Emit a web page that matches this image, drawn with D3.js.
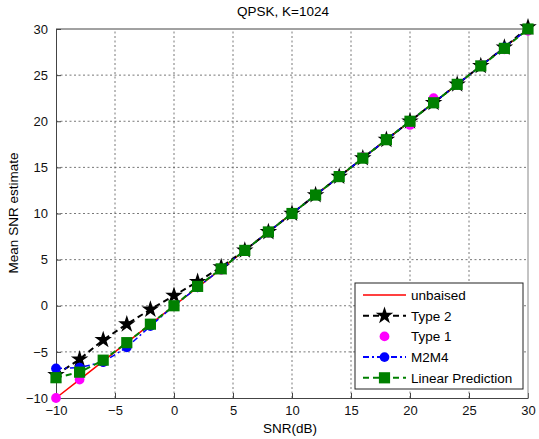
<!DOCTYPE html>
<html>
<head>
<meta charset="utf-8">
<script src="https://cdn.jsdelivr.net/npm/d3@7"></script>
<style>
  body { margin: 0; background: #fff; }
  text { font-family: "Liberation Sans", Arial, sans-serif; }
</style>
</head>
<body>
<svg></svg>
<script>
var snr = [-10, -8, -6, -4, -2, 0, 2, 4, 6, 8, 10, 12, 14, 16, 18, 20, 22, 24, 26, 28, 30];
var unbiased = [-10, -8, -6, -4, -2, 0, 2, 4, 6, 8, 10, 12, 14, 16, 18, 20, 22, 24, 26, 28, 30];
var type2 = [-7.5, -5.8, -3.7, -2.0, -0.4, 1.1, 2.6, 4.2, 6.0, 8.0, 10.0, 12.0, 14.0, 16.0, 18.0, 20.0, 22.0, 24.0, 26.0, 28.0, 30.2];
var type1 = [-10, -8.0, -6.1, -4.2, -2.1, 0.0, 2.0, 3.9, 6.0, 7.9, 10.0, 12.0, 14.1, 16.1, 18.0, 19.6, 22.5, 24.0, 26.1, 27.8, 29.8];
var m2m4 = [-6.8, -6.7, -6.1, -4.5, -2.2, 0.0, 2.0, 4.0, 6.0, 8.0, 10.0, 12.0, 14.0, 16.0, 18.0, 20.0, 22.0, 24.0, 26.0, 28.0, 30.0];
var linpred = [-7.8, -7.2, -5.9, -4.0, -2.0, 0.0, 2.1, 4.0, 6.0, 8.0, 10.0, 12.0, 14.0, 16.0, 18.0, 20.0, 22.0, 24.0, 26.0, 27.9, 30.0];
var ticks = [-10, -5, 0, 5, 10, 15, 20, 25, 30];

var width = 539, height = 439;
var svg = d3.select("svg").attr("width", width).attr("height", height);

var x = d3.scaleLinear().domain([-10, 30]).range([56, 528]);
var y = d3.scaleLinear().domain([-10, 30]).range([398, 29]);

var grid = svg.append("g");
grid.selectAll("line.gx").data(ticks.slice(1, -1)).enter().append("line")
    .attr("x1", function(d) { return x(d); }).attr("x2", function(d) { return x(d); })
    .attr("y1", y(-10)).attr("y2", y(30))
    .attr("stroke", "#555").attr("stroke-width", 0.8).attr("stroke-dasharray", "2,2.5");
grid.selectAll("line.gy").data(ticks.slice(1, -1)).enter().append("line")
    .attr("y1", function(d) { return y(d); }).attr("y2", function(d) { return y(d); })
    .attr("x1", x(-10)).attr("x2", x(30))
    .attr("stroke", "#555").attr("stroke-width", 0.8).attr("stroke-dasharray", "2,2.5");

// axes (ticks point inward)
var xAxis = svg.append("g").attr("transform", "translate(0," + y(-10) + ")")
    .call(d3.axisBottom(x).tickValues(ticks).tickSizeInner(-5).tickSizeOuter(0).tickPadding(8));
var yAxis = svg.append("g").attr("transform", "translate(" + x(-10) + ",0)")
    .call(d3.axisLeft(y).tickValues(ticks).tickSizeInner(-5).tickSizeOuter(0).tickPadding(8));
[xAxis, yAxis].forEach(function(a) {
  a.select(".domain").attr("stroke", "#444");
  a.selectAll(".tick line").attr("stroke", "#444");
  a.selectAll("text").attr("font-size", 13).attr("fill", "#111")
    .style("font-family", "'Liberation Sans', Arial, sans-serif");
});
svg.append("line").attr("x1", x(-10)).attr("x2", x(30)).attr("y1", y(30)).attr("y2", y(30)).attr("stroke", "#444");
svg.append("line").attr("x1", x(30)).attr("x2", x(30)).attr("y1", y(30)).attr("y2", y(-10)).attr("stroke", "#888");

var line = d3.line().x(function(d) { return x(d[0]); }).y(function(d) { return y(d[1]); });
function pts(vals) { return snr.map(function(s, i) { return [s, vals[i]]; }); }

var star = d3.symbol().type(d3.symbolStar).size(95);
var circ = d3.symbol().type(d3.symbolCircle).size(75);
var sq = d3.symbol().type(d3.symbolSquare).size(125);

var plot = svg.append("g");

// unbaised
plot.append("path").attr("d", line(pts(unbiased))).attr("fill", "none").attr("stroke", "#ff0000").attr("stroke-width", 1.5);

// Type 2
plot.append("path").attr("d", line(pts(type2))).attr("fill", "none").attr("stroke", "#000").attr("stroke-width", 2).attr("stroke-dasharray", "6,4");
plot.selectAll("path.t2").data(pts(type2)).enter().append("path")
    .attr("transform", function(d) { return "translate(" + x(d[0]) + "," + y(d[1]) + ")"; })
    .attr("d", star).attr("fill", "#000");

// Type 1
plot.selectAll("path.t1").data(pts(type1)).enter().append("path")
    .attr("transform", function(d) { return "translate(" + x(d[0]) + "," + y(d[1]) + ")"; })
    .attr("d", circ).attr("fill", "#ff00ff");

// M2M4
plot.append("path").attr("d", line(pts(m2m4))).attr("fill", "none").attr("stroke", "#0000ff").attr("stroke-width", 1.5).attr("stroke-dasharray", "6,3,2,3");
plot.selectAll("path.m2").data(pts(m2m4)).enter().append("path")
    .attr("transform", function(d) { return "translate(" + x(d[0]) + "," + y(d[1]) + ")"; })
    .attr("d", circ).attr("fill", "#0000ff");

// Linear Prediction
plot.append("path").attr("d", line(pts(linpred))).attr("fill", "none").attr("stroke", "#008000").attr("stroke-width", 2).attr("stroke-dasharray", "6,4");
plot.selectAll("path.lp").data(pts(linpred)).enter().append("path")
    .attr("transform", function(d) { return "translate(" + x(d[0]) + "," + y(d[1]) + ")"; })
    .attr("d", sq).attr("fill", "#008000");

// title & labels
svg.append("text").attr("x", 283).attr("y", 16).attr("text-anchor", "middle").attr("font-size", 13.5).text("QPSK, K=1024");
svg.append("text").attr("x", 290).attr("y", 433).attr("text-anchor", "middle").attr("font-size", 13.5).text("SNR(dB)");
svg.append("text").attr("transform", "translate(18,213) rotate(-90)").attr("text-anchor", "middle").attr("font-size", 13.5).text("Mean SNR estimate");

// legend
var legendItems = [
  { name: "unbaised", color: "#ff0000", dash: null, sym: null },
  { name: "Type 2", color: "#000", dash: "6,4", sym: star },
  { name: "Type 1", color: "#ff00ff", dash: "none", sym: circ },
  { name: "M2M4", color: "#0000ff", dash: "6,3,2,3", sym: circ },
  { name: "Linear Prediction", color: "#008000", dash: "6,4", sym: sq }
];
var lg = svg.append("g");
lg.append("rect").attr("x", 355).attr("y", 283).attr("width", 168).attr("height", 106)
    .attr("fill", "#fff").attr("stroke", "#222").attr("stroke-width", 1);
legendItems.forEach(function(it, i) {
  var ly = 295 + i * 20.7;
  if (it.dash !== "none") {
    lg.append("line").attr("x1", 363).attr("x2", 406).attr("y1", ly).attr("y2", ly)
      .attr("stroke", it.color).attr("stroke-width", it.dash ? 2 : 1.5)
      .attr("stroke-dasharray", it.dash);
  }
  if (it.sym) {
    lg.append("path").attr("transform", "translate(384.5," + ly + ")").attr("d", it.sym).attr("fill", it.color);
  }
  lg.append("text").attr("x", 411).attr("y", ly + 5).attr("font-size", 13.5).text(it.name);
});
</script>
</body>
</html>
